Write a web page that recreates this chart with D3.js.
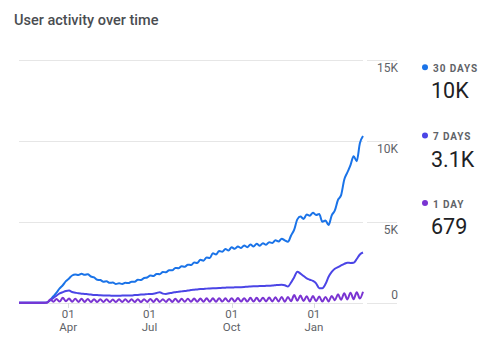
<!DOCTYPE html>
<html>
<head>
<meta charset="utf-8">
<script src="https://cdn.jsdelivr.net/npm/d3@7"></script>
<style>
  html, body { margin: 0; padding: 0; background: #fff; }
  svg { display: block; font-family: Roboto, "Noto Sans", sans-serif; }
</style>
</head>
<body>
<svg id="chart" width="493" height="337"></svg>
<script>
// Samples are taken twice a week (every 3.5 days) starting on the first day of the range.
const startDate = new Date(2022, 1, 5);
const stepDays = 3.5;

const thirtyDayUsers = [
  0, 0, 0, 0, 0, 0, 0, 0, 0, 20,
  180, 400, 620, 880, 1080, 1330, 1500, 1680, 1740, 1710,
  1790, 1720, 1760, 1620, 1560, 1420, 1400, 1300, 1320, 1230,
  1250, 1160, 1200, 1150, 1230, 1210, 1300, 1290, 1420, 1400,
  1530, 1560, 1680, 1650, 1780, 1760, 1900, 1880, 2010, 2000,
  2150, 2130, 2250, 2220, 2350, 2330, 2480, 2460, 2650, 2600,
  2800, 2760, 3050, 2980, 3200, 3150, 3320, 3230, 3420, 3330,
  3470, 3380, 3540, 3430, 3600, 3480, 3640, 3520, 3680, 3580,
  3740, 3690, 3860, 3780, 3960, 3850, 3760, 4150, 4520, 5150,
  5320, 5180, 5450, 5380, 5560, 5420, 5480, 5000, 5080, 4800,
  5400, 5700, 6350, 6650, 7600, 8050, 8500, 9050, 8750, 9850,
  10300
];

const sevenDayUsers = [
  0, 0, 0, 0, 0, 0, 0, 0, 0, 20,
  150, 300, 440, 570, 650, 720, 750, 660, 620, 580,
  560, 540, 520, 500, 480, 470, 460, 450, 440, 440,
  430, 430, 430, 440, 440, 450, 450, 470, 480, 500,
  510, 530, 540, 560, 600, 650, 560, 540, 580, 620,
  650, 680, 700, 720, 750, 780, 800, 820, 840, 850,
  870, 880, 890, 900, 910, 920, 930, 940, 940, 950,
  960, 960, 970, 990, 1000, 1010, 1020, 1030, 1030, 1040,
  1050, 1060, 1080, 1100, 1110, 1080, 1000, 1250, 1580, 1920,
  1800, 1650, 1500, 1420, 1350, 1200, 900, 900, 1150, 1600,
  1900, 2100, 2200, 2300, 2400, 2470, 2460, 2470, 2700, 2980,
  3100
];

const oneDayUsers = [
  0, 0, 0, 0, 0, 0, 0, 0, 0, 0,
  200, 60, 230, 70, 300, 90, 260, 60, 250, 50,
  240, 50, 230, 40, 220, 40, 210, 40, 210, 40,
  200, 40, 210, 40, 210, 40, 210, 40, 220, 40,
  220, 50, 230, 50, 240, 50, 220, 50, 230, 50,
  240, 50, 240, 60, 250, 60, 260, 60, 260, 60,
  270, 60, 270, 60, 280, 70, 270, 70, 280, 70,
  290, 70, 280, 70, 300, 70, 300, 80, 310, 80,
  320, 80, 330, 80, 360, 60, 350, 90, 470, 120,
  440, 100, 400, 80, 420, 90, 380, 70, 360, 80,
  420, 150, 520, 180, 580, 200, 620, 220, 650, 260,
  679
];

const seriesNames = ["30 DAYS", "7 DAYS", "1 DAY"];
const seriesColors = ["#1a73e8", "#4b45e6", "#7a34d2"];
const seriesValues = [thirtyDayUsers, sevenDayUsers, oneDayUsers];

const yTicks = [0, 5000, 10000, 15000];
const yTickLabels = ["0", "5K", "10K", "15K"];
const xTickDates = [new Date(2022, 3, 1), new Date(2022, 6, 1), new Date(2022, 9, 1), new Date(2023, 0, 1)];
const xTickDays = ["01", "01", "01", "01"];
const xTickMonths = ["Apr", "Jul", "Oct", "Jan"];

const DAY_MS = 24 * 3600 * 1000;
const dateAt = i => new Date(startDate.getTime() + i * stepDays * DAY_MS);
const endDate = dateAt(thirtyDayUsers.length - 1);

const svg = d3.select("#chart");

const plotLeft = 19, plotRight = 363, plotTop = 60, plotBottom = 302.7;
const x = d3.scaleTime().domain([startDate, endDate]).range([plotLeft, plotRight]);
const y = d3.scaleLinear().domain([0, 15000]).range([plotBottom, plotTop]);

// Title
svg.append("text")
  .attr("x", 14).attr("y", 24.5)
  .attr("font-size", 14.5).attr("font-weight", 500)
  .attr("fill", "#4a4d51")
  .text("User activity over time");

// Horizontal grid lines plus the short segment under each value label
const grid = svg.append("g");
grid.selectAll("line.main").data(yTicks).join("line")
  .attr("class", "main")
  .attr("x1", plotLeft).attr("x2", plotRight)
  .attr("y1", d => Math.round(y(d)) + 0.5).attr("y2", d => Math.round(y(d)) + 0.5)
  .attr("stroke", "#e6e6e6").attr("stroke-width", 1);
grid.selectAll("line.side").data(yTicks).join("line")
  .attr("class", "side")
  .attr("x1", 367).attr("x2", 397)
  .attr("y1", d => Math.round(y(d)) + 0.5).attr("y2", d => Math.round(y(d)) + 0.5)
  .attr("stroke", "#e6e6e6").attr("stroke-width", 1);

// Y axis labels on the right
svg.append("g").selectAll("text").data(yTicks).join("text")
  .attr("x", 398)
  .attr("y", d => d === 0 ? y(d) - 3.5 : y(d) + 12)
  .attr("text-anchor", "end")
  .attr("font-size", 12).attr("fill", "#5f6368")
  .text((d, i) => yTickLabels[i]);

// X axis tick marks and two-line labels (day over month)
const xAxis = svg.append("g");
xAxis.selectAll("line").data(xTickDates).join("line")
  .attr("x1", d => Math.round(x(d)) + 0.5).attr("x2", d => Math.round(x(d)) + 0.5)
  .attr("y1", 303).attr("y2", 308)
  .attr("stroke", "#dadce0");
xAxis.selectAll("text.day").data(xTickDates).join("text")
  .attr("class", "day")
  .attr("x", d => x(d)).attr("y", 317.8)
  .attr("text-anchor", "middle").attr("font-size", 11.5).attr("fill", "#5f6368")
  .text((d, i) => xTickDays[i]);
xAxis.selectAll("text.month").data(xTickDates).join("text")
  .attr("class", "month")
  .attr("x", d => x(d)).attr("y", 331.4)
  .attr("text-anchor", "middle").attr("font-size", 11.5).attr("fill", "#5f6368")
  .text((d, i) => xTickMonths[i]);

// Lines
const line = d3.line()
  .x((d, i) => x(dateAt(i)))
  .y(d => y(d))
  .curve(d3.curveMonotoneX);

svg.append("g").selectAll("path").data(seriesValues).join("path")
  .attr("d", d => line(d))
  .attr("fill", "none")
  .attr("stroke", (d, i) => seriesColors[i])
  .attr("stroke-width", 2)
  .attr("stroke-linejoin", "round");

// Legend with latest values
const fmt = v => v < 1000 ? String(v) : d3.format(".2s")(v).replace("k", "K");
const legendTop = [71.7, 140, 207.5];
const legend = svg.append("g").selectAll("g").data(seriesNames).join("g");
legend.append("circle")
  .attr("cx", 425).attr("cy", (d, i) => legendTop[i] - 4.5)
  .attr("r", 3)
  .attr("fill", (d, i) => seriesColors[i]);
legend.append("text")
  .attr("x", 433).attr("y", (d, i) => legendTop[i])
  .attr("font-size", 10).attr("font-weight", 700)
  .attr("letter-spacing", 0.9)
  .attr("fill", "#5f6368")
  .text(d => d);
legend.append("text")
  .attr("x", 431).attr("y", (d, i) => legendTop[i] + 26.5)
  .attr("font-size", 21.5).attr("font-weight", 400)
  .attr("fill", "#202124")
  .text((d, i) => fmt(seriesValues[i][seriesValues[i].length - 1]));
</script>
</body>
</html>
